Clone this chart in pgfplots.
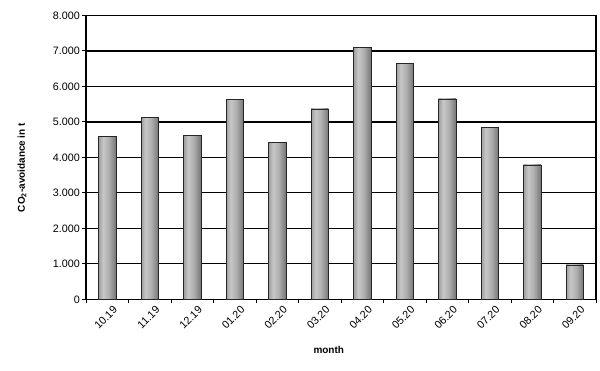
\documentclass[border=0pt]{standalone}
\usepackage{pgfplots}
\pgfplotsset{compat=1.18}
\usepackage{fontspec}
\setmainfont{Liberation Sans}
\pgfdeclarehorizontalshading{cyl}{100bp}{color(0bp)=(black!72); color(12bp)=(black!55); color(38bp)=(black!22); color(55bp)=(black!32); color(85bp)=(black!65); color(100bp)=(black!82)}
\pgfplotsset{cylbar/.style={ybar, bar width=17.4bp, bar shift=0pt, draw=black!85, line width=0.5bp, shading=cyl, mark=none}}
\begin{document}
\begin{tikzpicture}
\useasboundingbox (0,0) rectangle (600bp,371bp);
\begin{axis}[
  at={(86bp,71.7bp)}, anchor=south west,
  scale only axis, width=510bp, height=283.8bp,
  xmin=-0.5, xmax=11.5, ymin=0, ymax=8000,
  xtick={0,...,11},
  xticklabels={10.19,11.19,12.19,01.20,02.20,03.20,04.20,05.20,06.20,07.20,08.20,09.20},
  minor xtick={-0.5,0.5,...,11.5},
  ytick={0,1000,...,8000},
  ymajorgrids,
  major grid style={black, line width=1.2bp},
  axis line style={black, line width=1.3bp},
  tick pos=left, tick align=outside,
  major x tick style={draw=none},
  minor x tick style={black, line width=1bp},
  minor tick length=4bp,
  major tick length=4bp,
  major y tick style={black, line width=1bp},
  /pgf/number format/assume math mode=true,
  /pgf/number format/fixed,
  /pgf/number format/1000 sep={.},
  scaled y ticks=false,
  ticklabel style={font=\fontsize{10.8}{12}\selectfont},
  xticklabel style={rotate=45, anchor=east, inner sep=0.5pt, yshift=-9bp, xshift=3bp},
  yticklabel style={inner sep=2pt},
  ylabel={\bfseries CO\textsubscript{2}-avoidance in t},
  xlabel={\bfseries month},
  label style={font=\fontsize{12}{14}\selectfont\bfseries},
  every axis y label/.style={at={(axis description cs:-0.1255,0.464)}, rotate=90, anchor=center},
  every axis x label/.style={at={(axis description cs:0.476,-0.179)}, anchor=center},
]
\addplot[cylbar] coordinates {(0,4600)};
\addplot[cylbar] coordinates {(1,5120)};
\addplot[cylbar] coordinates {(2,4625)};
\addplot[cylbar] coordinates {(3,5640)};
\addplot[cylbar] coordinates {(4,4430)};
\addplot[cylbar] coordinates {(5,5365)};
\addplot[cylbar] coordinates {(6,7095)};
\addplot[cylbar] coordinates {(7,6655)};
\addplot[cylbar] coordinates {(8,5650)};
\addplot[cylbar] coordinates {(9,4850)};
\addplot[cylbar] coordinates {(10,3790)};
\addplot[cylbar] coordinates {(11,970)};
\end{axis}
\end{tikzpicture}
\end{document}
